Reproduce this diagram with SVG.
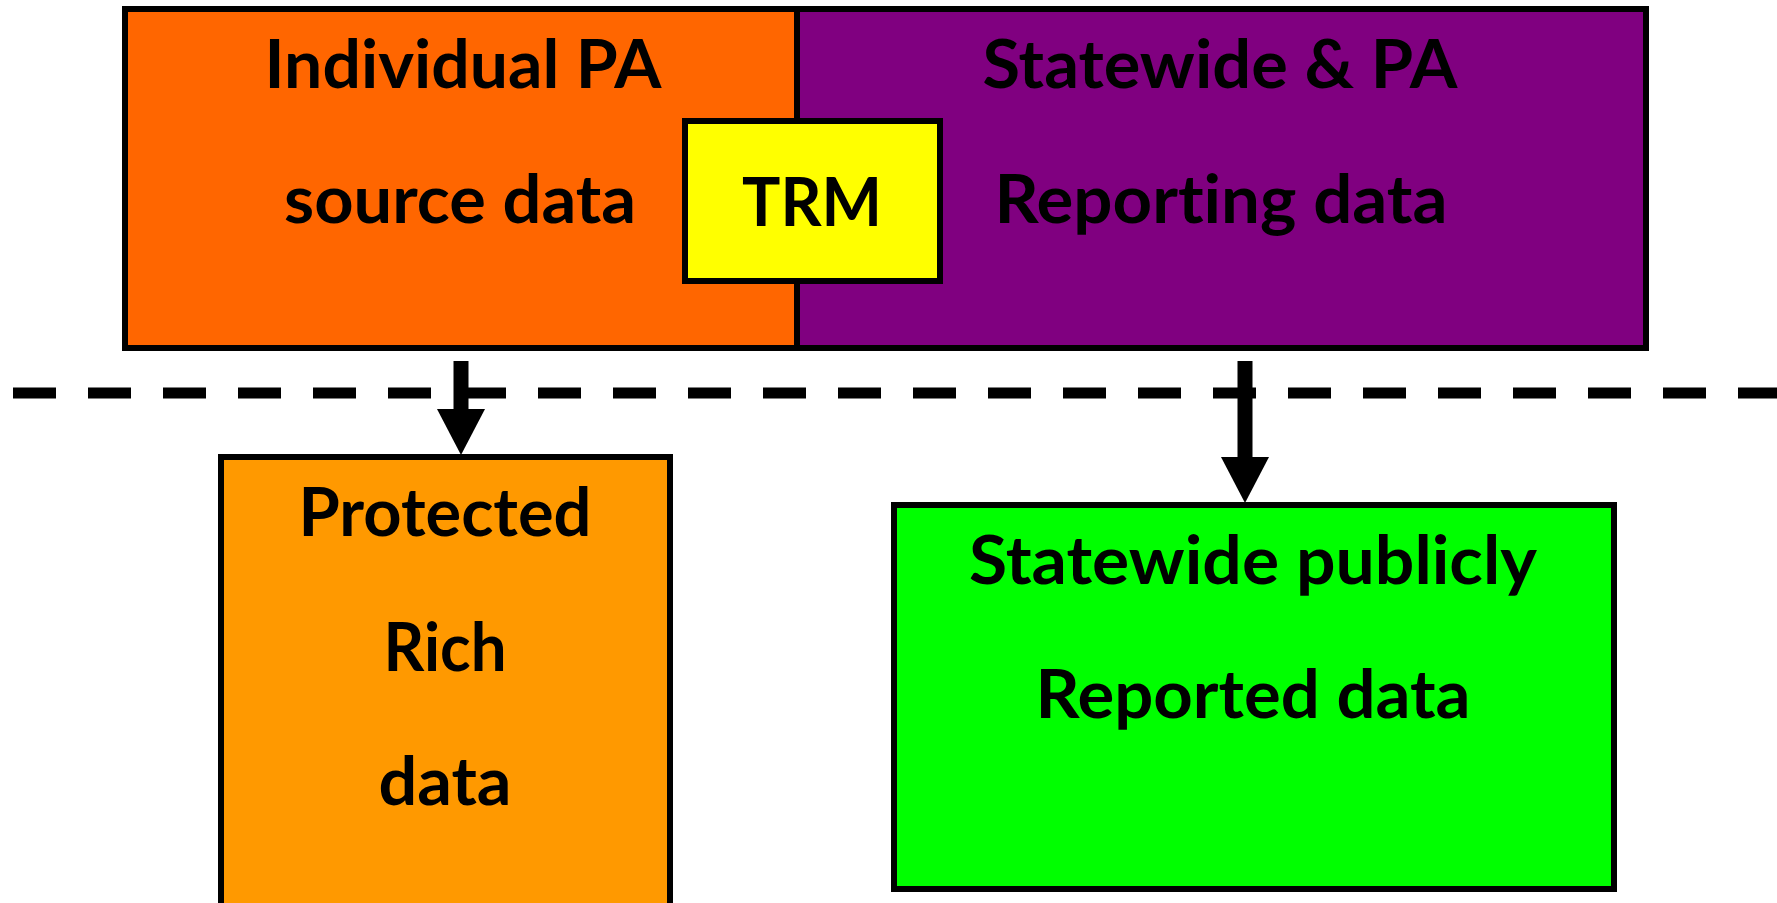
<svg xmlns="http://www.w3.org/2000/svg" width="1777" height="903" viewBox="0 0 1777 903">
  <style>
    .box { stroke: #000000; stroke-width: 6; }
    .lbl { font-family: Lato, "Open Sans", "Liberation Sans", sans-serif; font-weight: bold; font-size: 67px; fill: #000000; text-anchor: middle; font-variant-ligatures: none; }
    .conn { stroke: #000000; stroke-width: 15; fill: none; }
  </style>
  <defs>
    <marker id="ah" markerUnits="userSpaceOnUse" markerWidth="46" markerHeight="48" refX="0" refY="24" orient="auto" viewBox="0 0 46 48">
      <path d="M0,0 L46,24 L0,48 Z" fill="#000000"/>
    </marker>
  </defs>
  <rect width="1777" height="903" fill="#ffffff"/>

  <g id="source">
    <rect class="box" x="125" y="9" width="672" height="339" fill="#FF6600"/>
    <text class="lbl" x="463" y="88" textLength="397" lengthAdjust="spacingAndGlyphs">Individual PA</text>
    <text class="lbl" x="460" y="223" textLength="352" lengthAdjust="spacingAndGlyphs">source data</text>
  </g>

  <g id="reporting">
    <rect class="box" x="797" y="9" width="849" height="339" fill="#800080"/>
    <text class="lbl" x="1220" y="88" textLength="475" lengthAdjust="spacingAndGlyphs">Statewide &amp; PA</text>
    <text class="lbl" x="1221" y="223" textLength="453" lengthAdjust="spacingAndGlyphs">Reporting data</text>
  </g>

  <g id="trm">
    <rect class="box" x="685" y="121" width="255" height="160" fill="#FFFF00"/>
    <text class="lbl" x="812" y="226" textLength="140" lengthAdjust="spacingAndGlyphs">TRM</text>
  </g>

  <g id="divider">
    <line x1="13" y1="393" x2="1777" y2="393" stroke="#000000" stroke-width="11" stroke-dasharray="43 32"/>
  </g>

  <g id="connectors">
    <path class="conn" d="M461,361 L461,409" marker-end="url(#ah)"/>
    <path class="conn" d="M1245,361 L1245,457" marker-end="url(#ah)"/>
  </g>

  <g id="protected">
    <rect class="box" x="221" y="457" width="449" height="460" fill="#FF9900"/>
    <text class="lbl" x="445" y="536" textLength="293" lengthAdjust="spacingAndGlyphs">Protected</text>
    <text class="lbl" x="445" y="671" textLength="123" lengthAdjust="spacingAndGlyphs">Rich</text>
    <text class="lbl" x="445" y="805" textLength="133" lengthAdjust="spacingAndGlyphs">data</text>
  </g>

  <g id="public">
    <rect class="box" x="894" y="505" width="720" height="384" fill="#00FF00"/>
    <text class="lbl" x="1253" y="584" textLength="568" lengthAdjust="spacingAndGlyphs">Statewide publicly</text>
    <text class="lbl" x="1253" y="718" textLength="435" lengthAdjust="spacingAndGlyphs">Reported data</text>
  </g>
</svg>
